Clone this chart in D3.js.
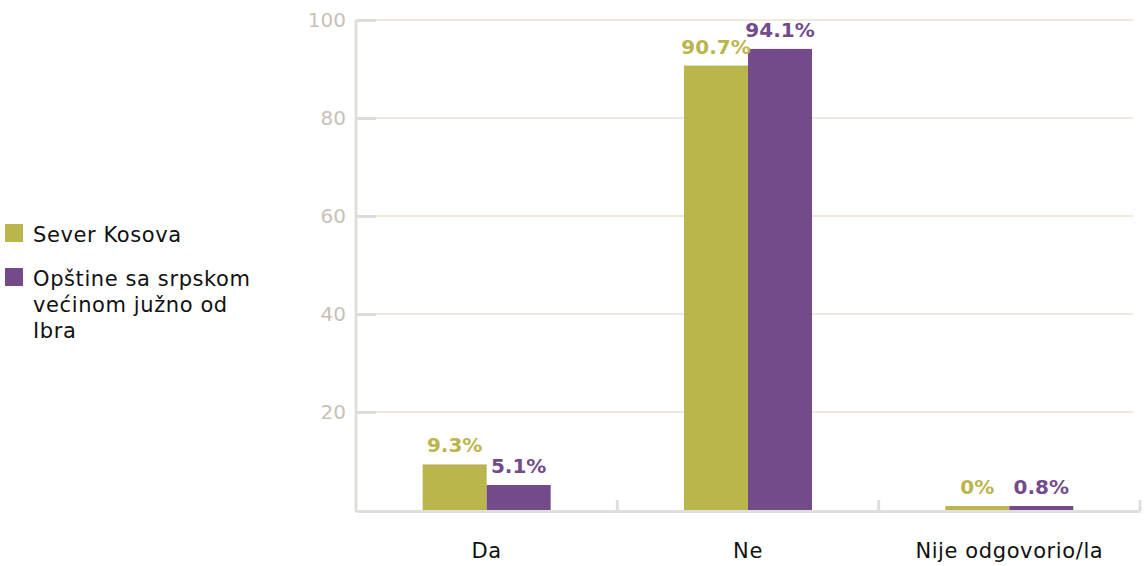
<!DOCTYPE html>
<html>
<head>
<meta charset="utf-8">
<script src="https://cdn.jsdelivr.net/npm/d3@7"></script>
<style>
  html, body { margin: 0; padding: 0; background: #fff; }
  svg { display: block; font-family: "DejaVu Sans", sans-serif; }
</style>
</head>
<body>
<svg id="chart" width="1147" height="566"></svg>
<script>
// ---- data ----
const categories = ["Da", "Ne", "Nije odgovorio/la"];
const seriesNames = ["Sever Kosova", "Opštine sa srpskom većinom južno od Ibra"];
const severValues = [9.3, 90.7, 0];
const opstineValues = [5.1, 94.1, 0.8];
const yTicks = [20, 40, 60, 80, 100];
const legendLines = [["Sever Kosova"], ["Opštine sa srpskom", "većinom južno od", "Ibra"]];
const colors = ["#bbb54e", "#744b8a"];

(function () {
const svg = d3.select("#chart");
const pLeft = 356, pRight = 1140, pTop = 20, pBottom = 510;

const x = d3.scaleBand().domain(categories).range([pLeft, pRight]).padding(0);
const sub = d3.scaleBand().domain([0, 1]).range([-64, 64]).padding(0);
const y = d3.scaleLinear().domain([0, 100]).range([pBottom, pTop]);

// gridlines
svg.append("g").selectAll("line").data(yTicks).join("line")
  .attr("x1", pLeft).attr("x2", 1133)
  .attr("y1", d => y(d)).attr("y2", d => y(d))
  .attr("stroke", "#ebe2d1").attr("stroke-width", 1.5);

// y axis
const yAxis = svg.append("g").attr("transform", `translate(${pLeft},0)`)
  .call(d3.axisLeft(y).tickValues(yTicks).tickSize(-20).tickPadding(10));
yAxis.select(".domain").remove();
yAxis.selectAll(".tick line").attr("stroke", "#dddcd8").attr("stroke-width", 3);
yAxis.selectAll(".tick text").attr("fill", "#c9c1b6")
  .style("font-size", "20px").style("font-family", "DejaVu Sans, sans-serif");
svg.append("line").attr("x1", pLeft).attr("x2", pLeft)
  .attr("y1", pTop).attr("y2", pBottom + 2)
  .attr("stroke", "#e0dfdc").attr("stroke-width", 3);

// x axis
const xAxis = svg.append("g").attr("transform", `translate(0,${pBottom + 1})`)
  .call(d3.axisBottom(x).tickSize(0).tickPadding(32));
xAxis.select(".domain").attr("stroke", "#e0dfdc").attr("stroke-width", 3);
xAxis.selectAll(".tick text").attr("fill", "#111")
  .style("font-size", "21px").style("letter-spacing", "0.6px")
  .style("font-family", "DejaVu Sans, sans-serif");
// category separators
const sepX = categories.slice(1).map(c => x(c)).concat([pRight]);
svg.append("g").selectAll("line").data(sepX).join("line")
  .attr("x1", d => d).attr("x2", d => d)
  .attr("y1", pBottom + 1).attr("y2", pBottom - 10)
  .attr("stroke", "#e0dfdc").attr("stroke-width", 3);

// bars
const series = [severValues, opstineValues];
const rows = [];
series.forEach((vals, s) => vals.forEach((v, i) => rows.push({ s, cat: categories[i], v })));
const bx = d => x(d.cat) + x.bandwidth() / 2 + sub(d.s);

svg.append("g").selectAll("rect").data(rows).join("rect")
  .attr("x", bx)
  .attr("width", sub.bandwidth())
  .attr("y", d => Math.min(y(d.v), pBottom - 4))
  .attr("height", d => Math.max(pBottom - y(d.v), 4))
  .attr("fill", d => colors[d.s]);

svg.append("g").selectAll("text").data(rows).join("text")
  .attr("x", d => bx(d) + sub.bandwidth() / 2)
  .attr("y", d => Math.min(y(d.v), pBottom - 4) - 12)
  .attr("text-anchor", "middle")
  .attr("fill", d => colors[d.s])
  .style("font-size", "20px").style("font-weight", "bold")
  .text(d => d.v + "%");

// legend
const lg = svg.append("g");
const legendY = [224, 268];
legendLines.forEach((lines, s) => {
  lg.append("rect").attr("x", 5).attr("y", legendY[s]).attr("width", 18).attr("height", 18)
    .attr("fill", colors[s]);
  lines.forEach((t, j) => {
    lg.append("text").attr("x", 33).attr("y", legendY[s] + 18 + j * 26)
      .attr("fill", "#111").style("font-size", "21px").style("letter-spacing", "0.6px")
      .text(t);
  });
});
})();
</script>
</body>
</html>
